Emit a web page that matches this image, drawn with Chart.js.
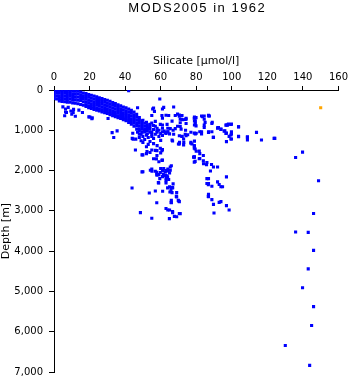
<!DOCTYPE html>
<html><head><meta charset="utf-8">
<script src="https://cdn.jsdelivr.net/npm/chart.js@4/dist/chart.umd.min.js"></script>
<style>html,body{margin:0;padding:0;background:#fff;}canvas{display:block;}</style>
</head><body>
<canvas id="c" width="351" height="384"></canvas>
<script>
const chartTitle = "MODS2005 in 1962";
const xAxisTitle = "Silicate [µmol/l]";
const yAxisTitle = "Depth [m]";
const xTicks = [0, 20, 40, 60, 80, 100, 120, 140, 160];
const yTicks = [0, 1000, 2000, 3000, 4000, 5000, 6000, 7000];

// surface band: [silicate, [depths...]]
const surfaceBand = [
[0,[5,70,140,210]],[1.5,[10,80,150,220]],[3,[8,75,145,215,270]],[4.5,[15,85,160,230,285]],
[6,[12,80,150,220,290]],[7.5,[20,90,160,235,300]],[9,[18,85,155,225,300]],[10.5,[25,95,165,240,320]],
[12,[28,100,170,245,330]],[13.5,[30,100,175,250,340]],[15,[50,120,190,260,360]],[16.5,[75,145,215,290,380]],
[18,[90,160,230,300,370,410]],[19.5,[110,180,250,320,390,440]],[21,[130,200,270,340,410,460]],
[22.5,[150,220,290,360,430,480]],[24,[170,240,310,380,450,500]],[25.5,[195,265,335,405,470,520]],
[27,[215,285,355,425,490,545]],[28.5,[235,305,375,445,510,565]],[30,[255,325,395,465,530,585]],
[31.5,[280,350,420,490,555,610]],[33,[310,380,450,520,580,635]],[34.5,[335,405,475,545,610,660]],
[36,[365,435,505,575,640,685]],[37.5,[395,465,535,605,665,705]],[39,[425,495,565,635,700,735]],
[40.5,[445,515,585,655,720,765]],[42,[475,545,615,685,750,805]],[43.5,[505,575,645,715,785,850]],
[45,[545,615,685,755,825,900]],[46.5,[605,675,745,815,885,970]],[48,[685,755,825,895,965,1015]],
[49.5,[765,835,905,975,1045]],[51,[825,895,965,1040]],[52.5,[865,935,1005,1085]],[54,[905,975,1045]]
];

const upperScatter = [
[5,420],[6.5,470],[8,430],[9.5,520],[11,480],[7,560],[10,600],[12,650],[6,640],[20.2,670],[21.3,710],[14,500],[16,560],
[6.5,545],[10.8,560],[19.6,667],[21.5,691],[30.4,707],
[42,15],[59.5,225],[61.7,430],[67.3,423],[56,447],[47,440],[55.5,470],[56.5,530],[61,470],[61,700],[63,627],
[55,634],[60.7,634],[64.5,634],[68.2,634],[72,634],[73.8,732],[66.4,772],[71,813],[59.8,854],[63.6,854],
[69.5,600],[70.5,650],[71,725],[74.3,725],[79,670],[79,770],[79,870],[83,645],[87,645],[84.5,725],[89,800],
[61,870],[61,950],[61,1037],[64,950],[64,1040],[67,1000],[69.5,900],[71.5,970],[74,1000],[77,1050],[80,1075],[82,1036],[87,1036],[92,950],[97,870],
[65.4,959],[68.2,959],[57.9,1016],[55,1098],[62.6,1057],[67.3,1098],[73.8,1098],[72,1154],[66.4,1244],[70,1341],[77.6,1341],[79.4,1463],[78.5,1667],[79.4,1772],
[47,1050],[49,1100],[50,1150],[52,1120],[53,1180],[55,1150],[56,1200],[57,1100],[58,1050],[59,1150],[60,1250],[48,1180],[51,1230],[54,1280],
[55,1050],[56,980],[57,900],[58,950],[59,1000],[60,1080],[61,1130],[62,1020],[63,1080],[64,1040],[65,1090],[50,1300],[53,1350],[56,1330],[58,1380],
[46,1220],[44,1200],[49,1260],[52,800],[54,850],[56,880],[50,750],[53,950],[55,820],[57,780],[51,1000],[48,1100],
[32.7,1057],[33.6,1179],[35.5,1016],[44.5,1220],[44.3,1075]
];

const midColumn = [
[45.8,1488],[49.5,1610],[52.3,1528],[55,1488],[57.9,1504],[59.8,1447],[60.7,1504],[56,1707],[57.9,1626],[60.7,1748],
[49.5,2033],[54.2,1992],[57,2016],[57.9,2114],[59.8,2049],[61.7,1951],[62.6,2033],[63.6,2130],[65.4,1911],[65.4,1992],
[66.7,1265],[70.6,1300],[73,1300],[77,1300],[79,1270],[79,1390],[52,1410],[57,1500],[61,1480],[54,1550],[52,1580],[60,1560],[50,1610],
[57.6,1710],[59,1780],[61,1740],[66,1880],[50,2030],[55,1960],[60,1950],[64,1960],[64,2010],[59.5,2200],[61,2150],[63,2180],[63,2250],[66.7,2420],
[55.1,2016],[57.8,2041],[57.8,2090],[59,2100],[61,2000],[63,2000],[65,2057],[61.5,2090],[62.7,2120],[63.9,2163],[64.5,2220],
[58.9,2310],[63,2310],[63.9,2430],[65.8,2466],[66.7,2433],[65.2,2531],[66.4,2548],[69,2548],[61.1,2515],[57,2507],[53.6,2556],
[43.9,2433],[69,2654],[70.1,2752],[66,2736],[66,2800],[57.8,2800],[63,2940],[64,2980],[65,2980],[66.7,3020],[66.7,3045],
[67.7,3136],[69,3145],[71,3070],[64.9,3194],[48.6,3045],[55,3185],[58.7,2300],[65,2400],[67,2330],[68.8,2640],[65.9,2790],[69.9,2740]
];

const rightColumn = [
[70.5,620],[71.8,725],[72.4,740],[74.3,700],[74.3,830],[71,905],[70.5,1340],[78.9,700],[79.9,685],[79.5,765],[79.5,830],[79.9,890],
[83.6,660],[84.5,645],[86.9,627],[85,805],[84.5,872],[84.5,930],[88.8,830],[92.5,930],[93.9,970],[96.7,872],[98.1,848],[99.8,848],[103.8,913],
[70.5,1135],[72,1150],[72.9,1216],[74.3,1135],[75.2,1110],[78.9,1070],[79.5,1093],[83,1036],[83,1093],[86.9,1052],[88.8,1036],[89.7,1175],
[96.1,1012],[97,1070],[99.8,1036],[99.8,1093],[98.5,1150],[99.8,1216],[97,1282],[103.8,1150],[108.8,1175],[108.8,1240],[113.9,1052],[116.7,1240],[124.2,1200],
[77,1322],[78.9,1380],[72.9,1363],[78.9,1445],[81.7,1518],[84,1626],[78.9,1666],[78.9,1790],[81.7,1707],[84.1,1830],[85.8,1855],[88.6,1848],
[89.7,1912],[92,1912],[88,2010],[97,2157],[86.9,2200],[86.9,2322],[88.8,2388],[92,2280],[92.9,2346],[93.9,2403],[94.8,2403],
[86.9,2592],[86.9,2650],[88.8,2722],[89.7,2838],[92.9,2789],[93.9,2772],[97,2870],[98.5,2978],[90,3052],[70.5,3066],[70.5,2772],
[87.4,645],[92,938],[93.9,978],[95.7,1020],[97.6,872],[99.5,855],[99.5,1118],[96.7,1077],[99.5,1216],[103.8,914],[103.8,1160],[108.8,1160],
[123.8,1200],[89.6,1175],[80,1520],[82,1580],[79,1660],[82,1700],[84,1760],[86,1800],[86,2200],[86,2320],[86.8,2350],[86.8,2640]
];

const deepStation = [
[139.8,1543],[135.9,1675],[148.8,2252],[146,3067],[135.9,3526],[143,3535],[146,3980],[143,4440],
[139.8,4909],[146,5378],[144.9,5847],[130.1,6341],[143.8,6835]
];

const orangePoints = [[150,440]];

const toXY = p => ({x: p[0], y: p[1]});
const bluePts = [];
surfaceBand.forEach(([s, ds]) => ds.forEach(d => bluePts.push({x: s, y: d})));
[upperScatter, midColumn, rightColumn, deepStation].forEach(g => g.forEach(p => bluePts.push(toXY(p))));

const titlePlugin = {
  id: 'ctitle',
  afterDraw(chart) {
    const ctx = chart.ctx, a = chart.chartArea;
    ctx.save();
    ctx.font = '13px "Liberation Sans", Arial, sans-serif';
    try { ctx.letterSpacing = '1.5px'; } catch (e) {}
    ctx.fillStyle = '#000';
    ctx.textAlign = 'center';
    ctx.textBaseline = 'middle';
    ctx.fillText(chartTitle, (a.left + a.right) / 2 + 1, 8);
    ctx.restore();
  }
};

const tickFont = {family: '"DejaVu Sans", sans-serif', size: 10};
const titleFont = {family: '"DejaVu Sans", sans-serif', size: 11};

new Chart(document.getElementById('c'), {
  type: 'scatter',
  data: {
    datasets: [
      {data: bluePts, pointStyle: 'rect', radius: 2.2, backgroundColor: '#0000ff', borderWidth: 0},
      {data: orangePoints.map(toXY), pointStyle: 'rect', radius: 2.2, backgroundColor: '#ffa500', borderWidth: 0}
    ]
  },
  options: {
    responsive: false,
    devicePixelRatio: 1,
    animation: false,
    layout: {padding: {left: 0, right: 12, top: 55, bottom: 8}},
    plugins: {legend: {display: false}, tooltip: {enabled: false}, title: {display: false}},
    scales: {
      x: {
        type: 'linear', position: 'top', min: 0, max: 160,
        afterBuildTicks: s => { s.ticks = xTicks.map(v => ({value: v})); },
        afterFit: s => { s.height = 35; },
        ticks: {font: tickFont, color: '#000', padding: 3, maxRotation: 0},
        grid: {drawOnChartArea: false, drawTicks: true, tickLength: 4, color: '#000', tickColor: '#000'},
        border: {display: true, color: '#000', width: 1},
        title: {display: true, text: xAxisTitle, font: titleFont, color: '#000', padding: 0}
      },
      y: {
        type: 'linear', reverse: true, min: 0, max: 7000,
        afterBuildTicks: s => { s.ticks = yTicks.map(v => ({value: v})); },
        afterFit: s => { s.width = 54; },
        ticks: {font: tickFont, color: '#000', padding: 6},
        grid: {drawOnChartArea: false, drawTicks: true, tickLength: 5, color: '#000', tickColor: '#000'},
        border: {display: true, color: '#000', width: 1},
        title: {display: true, text: yAxisTitle, font: titleFont, color: '#000', padding: 0}
      }
    }
  },
  plugins: [titlePlugin]
});
</script>
</body></html>
